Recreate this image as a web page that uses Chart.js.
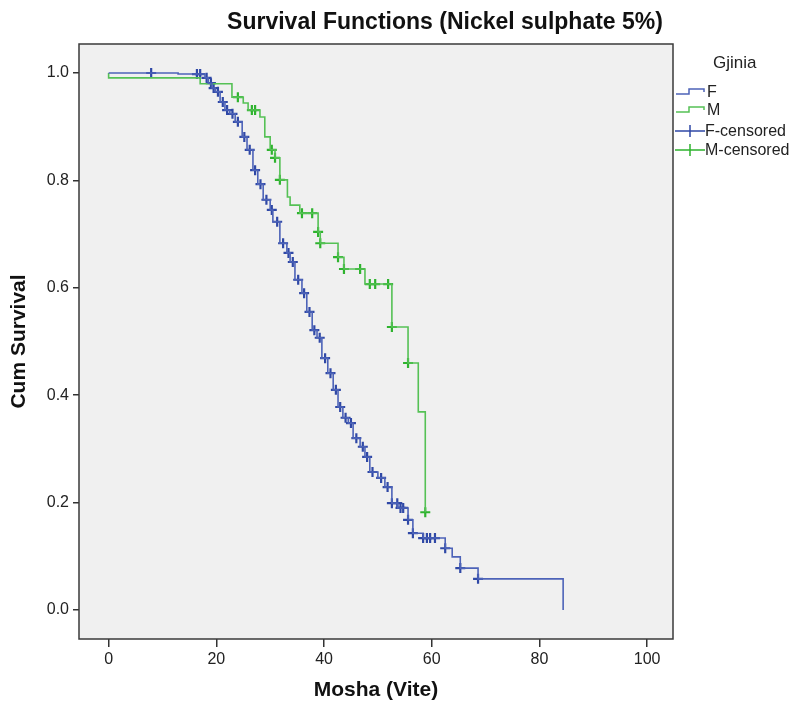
<!DOCTYPE html>
<html>
<head>
<meta charset="utf-8">
<script src="https://cdn.jsdelivr.net/npm/chart.js@4.4.0/dist/chart.umd.min.js"></script>
<style>
  html, body { margin: 0; padding: 0; background: #fff; }
</style>
</head>
<body>
<canvas id="kmChart" width="794" height="704"></canvas>
<script>
// ===== data =====
const xTicks = [0, 20, 40, 60, 80, 100];
const yTicks = [0, 0.2, 0.4, 0.6, 0.8, 1.0];
const legendTitle = "Gjinia";
const legendLabels = ["F", "M", "F-censored", "M-censored"];

// F: time of each step, survival after it
const fTimes = [0, 12.9, 17.9, 18.5, 19.2, 19.8, 20.7, 21.6, 22.5, 23.5, 24.8, 25.7, 26.8, 27.7, 28.7, 30.0, 30.5, 31.8, 33.1, 33.7, 34.6, 35.9, 36.8, 37.8, 38.7, 39.6, 40.7, 41.7, 42.6, 43.5, 44.5, 45.4, 46.7, 47.6, 48.5, 50.0, 51.3, 52.6, 53.7, 55.6, 56.5, 58.4, 62.5, 63.8, 65.3, 68.6, 84.4];
const fSurv = [1.0, 0.998, 0.991, 0.981, 0.972, 0.965, 0.946, 0.931, 0.924, 0.909, 0.881, 0.857, 0.819, 0.793, 0.764, 0.745, 0.723, 0.683, 0.665, 0.648, 0.615, 0.590, 0.555, 0.521, 0.507, 0.469, 0.441, 0.410, 0.378, 0.358, 0.348, 0.320, 0.304, 0.285, 0.257, 0.246, 0.229, 0.199, 0.190, 0.168, 0.143, 0.134, 0.115, 0.099, 0.078, 0.058, 0.0];
const fCensored = [7.9, 16.4, 17.0, 18.2, 19.0, 19.5, 20.3, 21.2, 22.0, 23.0, 24.0, 25.2, 26.2, 27.2, 28.2, 29.3, 30.3, 31.3, 32.4, 33.4, 34.2, 35.2, 36.3, 37.3, 38.2, 39.2, 40.2, 41.2, 42.2, 43.0, 44.0, 45.0, 46.0, 47.2, 48.0, 49.0, 50.6, 51.8, 52.6, 53.6, 54.2, 54.7, 55.6, 56.5, 58.4, 59.1, 59.7, 60.6, 62.5, 65.3, 68.6];

// M
const mTimes = [0, 0, 17.0, 22.9, 25.0, 25.9, 28.1, 29.0, 30.0, 30.9, 31.8, 33.2, 33.7, 35.5, 38.9, 39.3, 42.6, 43.7, 47.6, 52.6, 55.6, 57.5, 58.8];
const mSurv = [1.0, 0.991, 0.980, 0.955, 0.944, 0.931, 0.918, 0.881, 0.857, 0.842, 0.801, 0.769, 0.754, 0.739, 0.704, 0.683, 0.657, 0.635, 0.607, 0.527, 0.460, 0.369, 0.182];
const mCensored = [24.0, 26.6, 27.2, 30.3, 30.9, 31.8, 35.9, 37.8, 38.9, 39.3, 42.6, 43.7, 46.7, 48.5, 49.5, 51.9, 52.6, 55.6, 58.8];

// ----- colours -----
const blueLine = "#4d63b8", blueMark = "#2f48a6";
const greenLine = "#55c155", greenMark = "#2eb32e";

// survival level at time t (last step at or before t)
function survAt(times, surv, t) {
    let s = surv[0];
    for (let i = 0; i < times.length; i++) {
        if (times[i] <= t) s = surv[i];
    }
    return s;
}

const toPoints = (times, surv) => times.map((t, i) => ({ x: t, y: surv[i] }));
const censorPoints = (cens, times, surv) => cens.map(t => ({ x: t, y: survAt(times, surv, t) }));

// ----- background, frame, title, legend -----
const decorPlugin = {
    id: "decor",
    beforeDraw(chart) {
        const { ctx, chartArea: a } = chart;
        ctx.save();
        ctx.fillStyle = "#ffffff";
        ctx.fillRect(0, 0, chart.width, chart.height);
        ctx.fillStyle = "#f0f0f0";
        ctx.fillRect(a.left, a.top, a.right - a.left, a.bottom - a.top);
        ctx.restore();
    },
    afterDraw(chart) {
        const { ctx, chartArea: a } = chart;
        ctx.save();
        ctx.strokeStyle = "#3a3a3a";
        ctx.lineWidth = 1.5;
        ctx.strokeRect(a.left, a.top, a.right - a.left, a.bottom - a.top);

        // title
        ctx.fillStyle = "#111";
        ctx.font = "bold 23px 'Liberation Sans', Arial, sans-serif";
        ctx.textAlign = "center";
        ctx.textBaseline = "middle";
        ctx.fillText("Survival Functions (Nickel sulphate 5%)", 445, 23);

        // legend
        ctx.textAlign = "left";
        ctx.font = "17px 'Liberation Sans', Arial, sans-serif";
        ctx.fillStyle = "#222";
        ctx.fillText(legendTitle, 713, 63);

        ctx.font = "16px 'Liberation Sans', Arial, sans-serif";
        const rows = [92, 110, 131, 150];
        const cols = [blueLine, greenLine, blueMark, greenMark];
        rows.forEach((r, i) => {
            ctx.strokeStyle = cols[i];
            ctx.lineWidth = 1.5;
            ctx.beginPath();
            if (i < 2) {
                ctx.moveTo(676, r + 2);
                ctx.lineTo(689, r + 2);
                ctx.lineTo(689, r - 3);
                ctx.lineTo(704, r - 3);
                ctx.lineTo(704, r);
            } else {
                ctx.moveTo(675, r);
                ctx.lineTo(705, r);
                ctx.moveTo(690, r - 6);
                ctx.lineTo(690, r + 6);
            }
            ctx.stroke();
            ctx.fillStyle = "#222";
            ctx.fillText(legendLabels[i], i < 2 ? 707 : 705, r + 1);
        });
        ctx.restore();
    }
};

const ctx = document.getElementById("kmChart").getContext("2d");
new Chart(ctx, {
    type: "line",
    data: {
        datasets: [
            { label: "F", data: toPoints(fTimes, fSurv), stepped: true, borderColor: blueLine, borderWidth: 1.6, pointRadius: 0, fill: false },
            { label: "M", data: toPoints(mTimes, mSurv), stepped: true, borderColor: greenLine, borderWidth: 1.6, pointRadius: 0, fill: false },
            { label: "F-censored", type: "scatter", data: censorPoints(fCensored, fTimes, fSurv), pointStyle: "cross", pointRadius: 5, borderColor: blueMark, borderWidth: 2.2, showLine: false },
            { label: "M-censored", type: "scatter", data: censorPoints(mCensored, mTimes, mSurv), pointStyle: "cross", pointRadius: 5, borderColor: greenMark, borderWidth: 2.2, showLine: false }
        ]
    },
    options: {
        responsive: false,
        animation: false,
        devicePixelRatio: 1,
        layout: { padding: { top: 44, right: 121, left: 0, bottom: 0 } },
        plugins: { legend: { display: false }, title: { display: false }, tooltip: { enabled: false } },
        scales: {
            x: {
                type: "linear",
                min: -5.5, max: 104.8,
                afterFit: s => { s.height = 65; },
                afterBuildTicks: s => { s.ticks = xTicks.map(v => ({ value: v })); },
                grid: { drawOnChartArea: false, tickLength: 8, color: "#333", lineWidth: 1.5 },
                border: { display: false },
                ticks: { color: "#222", font: { size: 16, family: "'Liberation Sans', Arial" }, padding: 3, maxRotation: 0 },
                title: { display: true, text: "Mosha (Vite)", color: "#111", font: { size: 21, weight: "bold", family: "'Liberation Sans', Arial" }, padding: { top: 0, bottom: 1 } }
            },
            y: {
                min: -0.054, max: 1.054,
                afterFit: s => { s.width = 79; },
                afterBuildTicks: s => { s.ticks = yTicks.map(v => ({ value: v })); },
                grid: { drawOnChartArea: false, tickLength: 6, color: "#333", lineWidth: 1.5 },
                border: { display: false },
                ticks: { color: "#222", font: { size: 16, family: "'Liberation Sans', Arial" }, padding: 4, callback: v => v.toFixed(1) },
                title: { display: true, text: "Cum Survival", color: "#111", font: { size: 21, weight: "bold", family: "'Liberation Sans', Arial" }, padding: { top: 7, bottom: 0 } }
            }
        }
    },
    plugins: [decorPlugin]
});
</script>
</body>
</html>
